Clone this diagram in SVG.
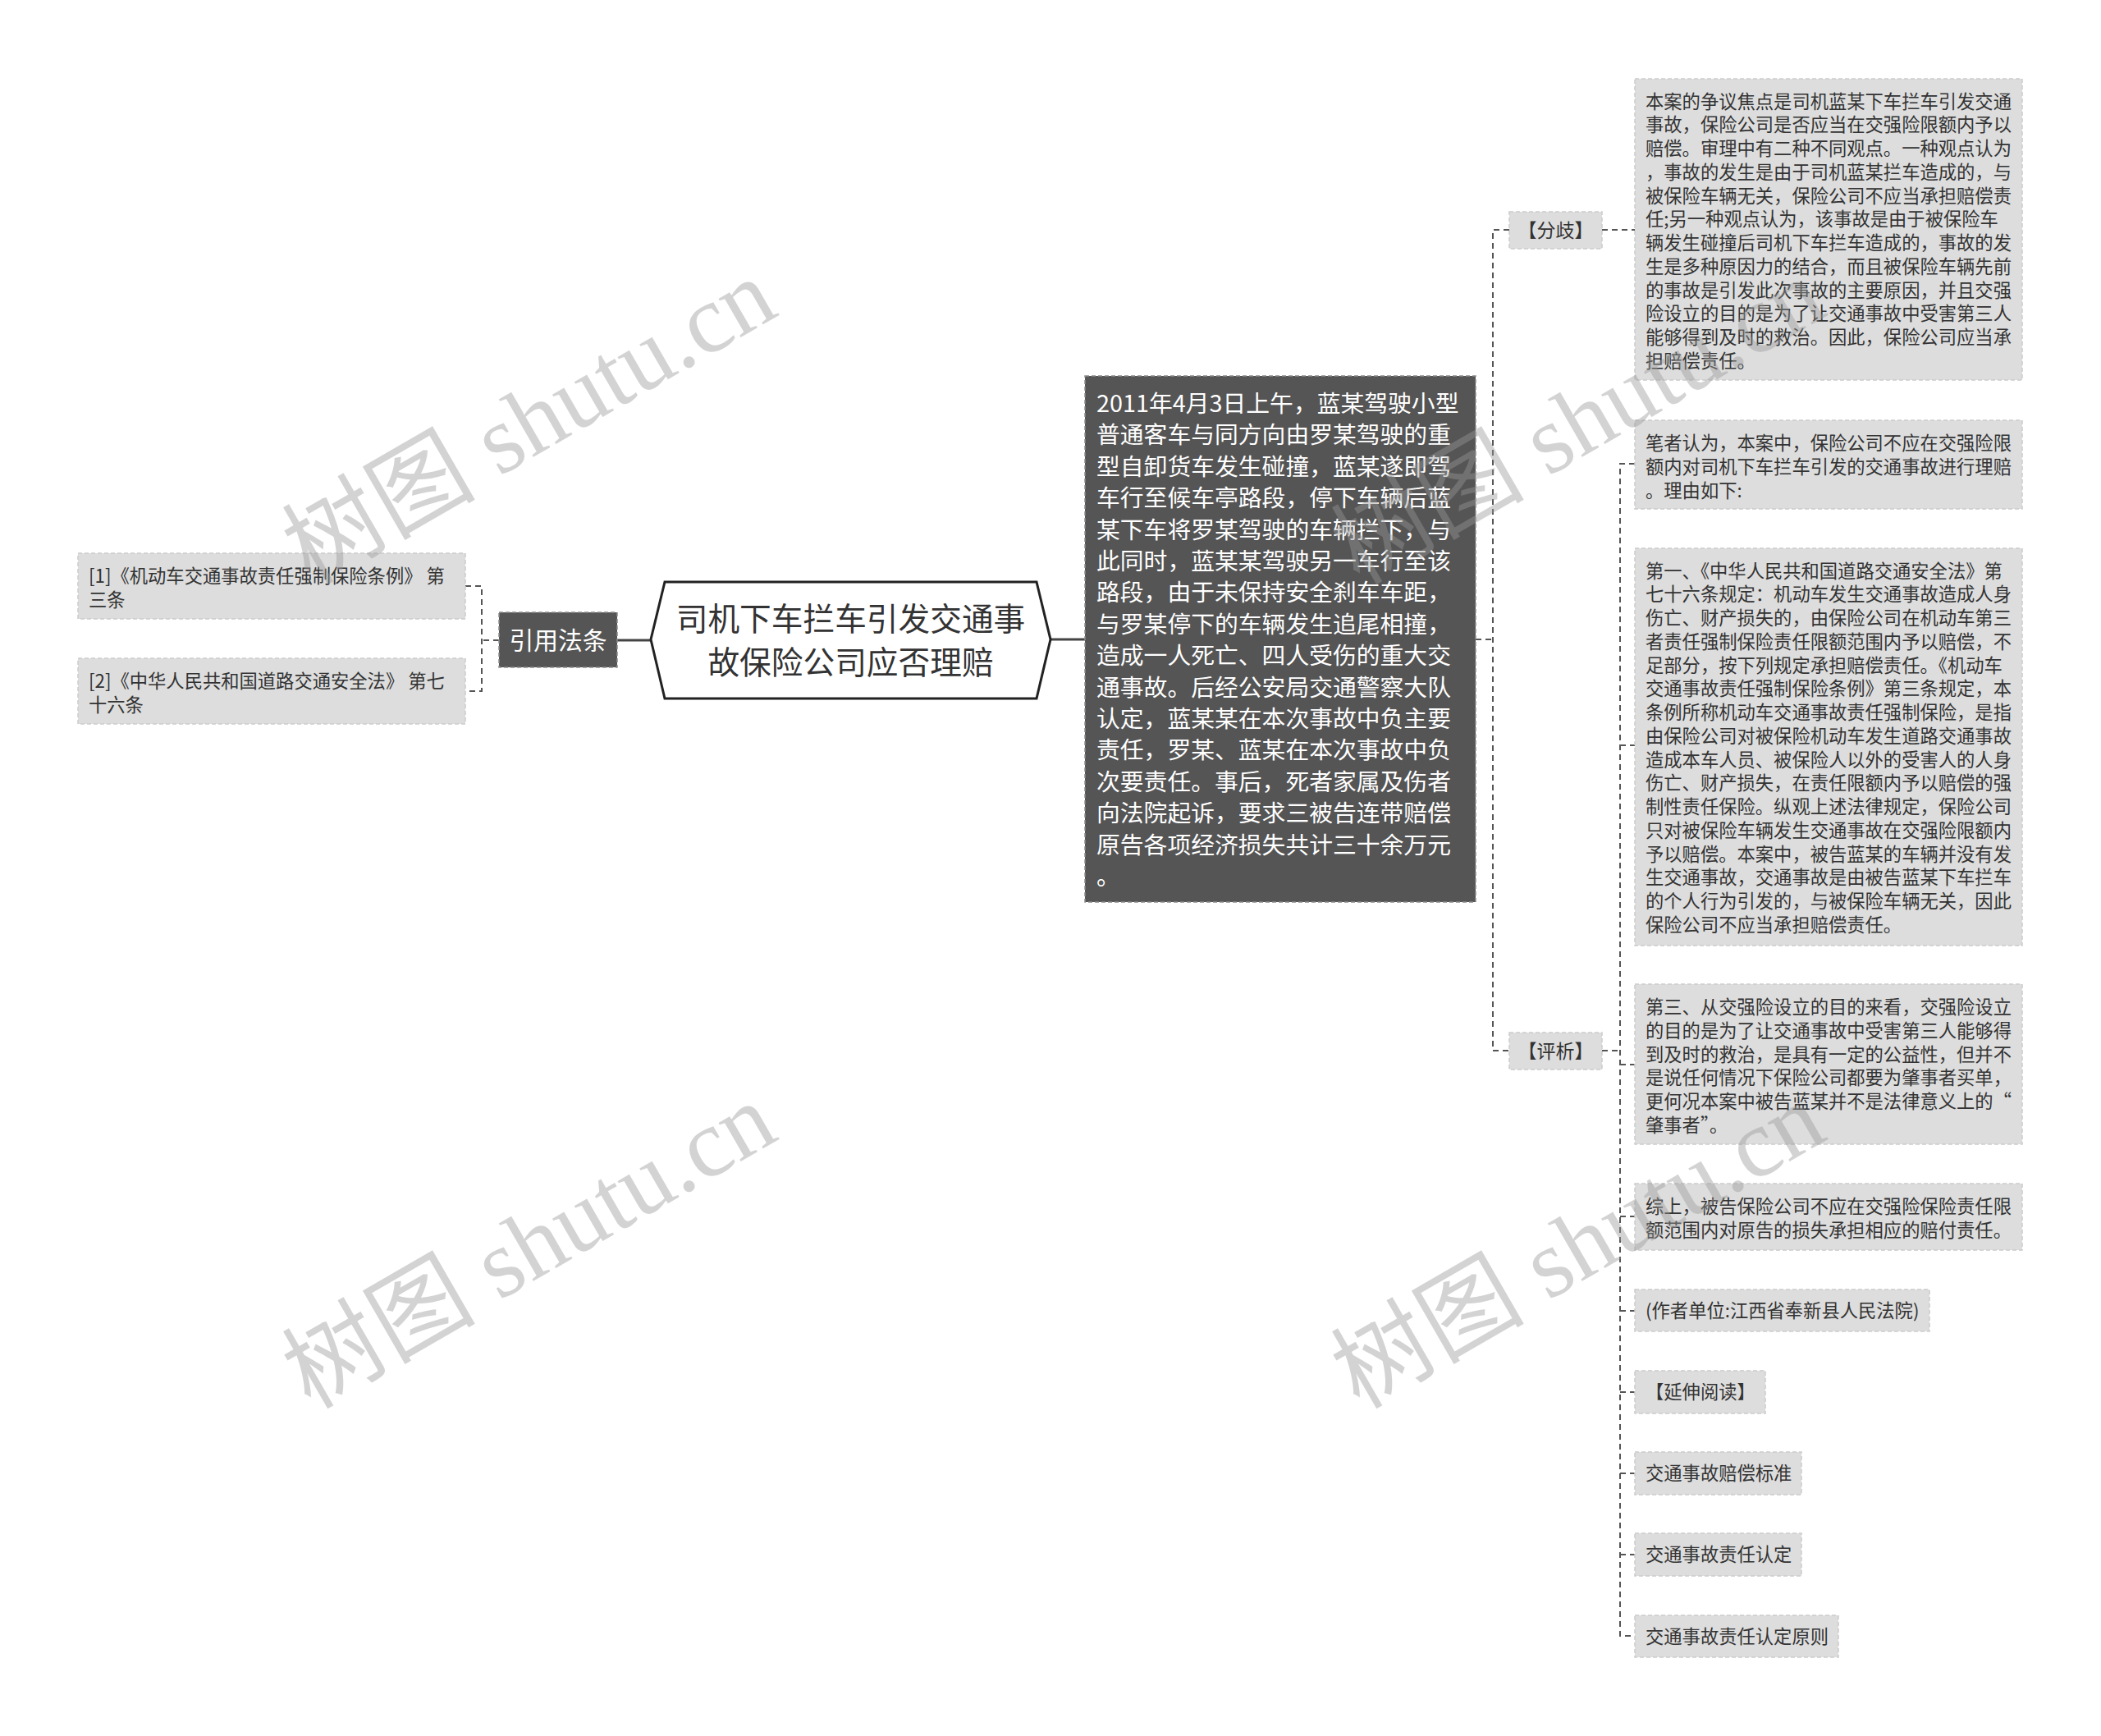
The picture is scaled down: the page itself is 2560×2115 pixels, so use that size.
<svg xmlns="http://www.w3.org/2000/svg" width="2560" height="2115" viewBox="0 0 2560 2115">
<style>
.leaf{fill:#dddddd;stroke:#cccccc;stroke-width:1.5;stroke-dasharray:5 3}
.dark{fill:#555555;stroke:#8c8c8c;stroke-width:1.5;stroke-dasharray:5 3}
.t{font-family:"Noto Sans CJK SC","Noto Sans",sans-serif;fill:#333333}
.s{font-size:22.3px}
.w{fill:#ffffff}
.conn{fill:none;stroke:#555555;stroke-width:2;stroke-dasharray:7 5}
.solid{fill:none;stroke:#444444;stroke-width:3}
.wm{font-family:"Liberation Serif","Noto Sans CJK SC",serif;font-size:118px;fill:#999999;opacity:0.42}
</style>
<rect width="2560" height="2115" fill="#ffffff"/>
<g id="connectors">
<path class="solid" d="M752,780 H793"/>
<path class="solid" d="M1280,779 H1322"/>
<path class="conn" d="M608,780 H587"/>
<path class="conn" d="M567,714 H587 V842 H567"/>
<path class="conn" d="M1798,779 H1819"/>
<path class="conn" d="M1839,280 H1819 V1280 H1839"/>
<path class="conn" d="M1952,280 H1992"/>
<path class="conn" d="M1952,1280 H1974"/>
<path class="conn" d="M1992,565 H1974 V1993 H1992"/>
<path class="conn" d="M1974,908 H1992 M1974,1297 H1992 M1974,1482 H1992 M1974,1597 H1992 M1974,1696 H1992 M1974,1795 H1992 M1974,1894 H1992"/>
</g>
<g id="root">
<polygon points="793,779 810,709 1263,709 1280,779 1263,851 810,851" fill="#ffffff" stroke="#222222" stroke-width="3"/>
<text class="t" x="1036.5" y="768" font-size="38.7" text-anchor="middle" fill="#222222">司机下车拦车引发交通事</text>
<text class="t" x="1036.5" y="821" font-size="38.7" text-anchor="middle" fill="#222222">故保险公司应否理赔</text>
</g>
<g id="yinyong">
<rect class="dark" x="608" y="746" width="144" height="67"/>
<text class="t w" x="680" y="791" font-size="29.8" text-anchor="middle">引用法条</text>
</g>
<g id="law1">
<rect class="leaf" x="95" y="674" width="472" height="80"/>
<text class="t s" x="108" y="710">[1]《机动车交通事故责任强制保险条例》 第</text>
<text class="t s" x="108" y="738.5">三条</text>
</g>
<g id="law2">
<rect class="leaf" x="95" y="802" width="472" height="80"/>
<text class="t s" x="108" y="838">[2]《中华人民共和国道路交通安全法》 第七</text>
<text class="t s" x="108" y="866.5">十六条</text>
</g>
<g id="facts">
<rect class="dark" x="1322" y="458" width="476" height="641"/>
<text class="t w" font-size="28.8">
<tspan x="1336" y="502">2011年4月3日上午，蓝某驾驶小型</tspan>
<tspan x="1336" y="540.4">普通客车与同方向由罗某驾驶的重</tspan>
<tspan x="1336" y="578.8">型自卸货车发生碰撞，蓝某遂即驾</tspan>
<tspan x="1336" y="617.2">车行至候车亭路段，停下车辆后蓝</tspan>
<tspan x="1336" y="655.6">某下车将罗某驾驶的车辆拦下，与</tspan>
<tspan x="1336" y="694">此同时，蓝某某驾驶另一车行至该</tspan>
<tspan x="1336" y="732.4">路段，由于未保持安全刹车车距，</tspan>
<tspan x="1336" y="770.8">与罗某停下的车辆发生追尾相撞，</tspan>
<tspan x="1336" y="809.2">造成一人死亡、四人受伤的重大交</tspan>
<tspan x="1336" y="847.6">通事故。后经公安局交通警察大队</tspan>
<tspan x="1336" y="886">认定，蓝某某在本次事故中负主要</tspan>
<tspan x="1336" y="924.4">责任，罗某、蓝某在本次事故中负</tspan>
<tspan x="1336" y="962.8">次要责任。事后，死者家属及伤者</tspan>
<tspan x="1336" y="1001.2">向法院起诉，要求三被告连带赔偿</tspan>
<tspan x="1336" y="1039.6">原告各项经济损失共计三十余万元</tspan>
<tspan x="1336" y="1078">。</tspan>
</text>
</g>
<g id="fenqi">
<rect class="leaf" x="1839" y="258" width="113" height="45"/>
<text class="t" x="1895.5" y="288.5" font-size="23" text-anchor="middle">【分歧】</text>
</g>
<g id="pingxi">
<rect class="leaf" x="1839" y="1258" width="113" height="45"/>
<text class="t" x="1895.5" y="1288.5" font-size="23" text-anchor="middle">【评析】</text>
</g>
<g id="fenqi-text">
<rect class="leaf" x="1992" y="96" width="472" height="367"/>
<text class="t s">
<tspan x="2005" y="131.5">本案的争议焦点是司机蓝某下车拦车引发交通</tspan>
<tspan x="2005" y="160.25">事故，保险公司是否应当在交强险限额内予以</tspan>
<tspan x="2005" y="189">赔偿。审理中有二种不同观点。一种观点认为</tspan>
<tspan x="2005" y="217.75">，事故的发生是由于司机蓝某拦车造成的，与</tspan>
<tspan x="2005" y="246.5">被保险车辆无关，保险公司不应当承担赔偿责</tspan>
<tspan x="2005" y="275.25">任;另一种观点认为，该事故是由于被保险车</tspan>
<tspan x="2005" y="304">辆发生碰撞后司机下车拦车造成的，事故的发</tspan>
<tspan x="2005" y="332.75">生是多种原因力的结合，而且被保险车辆先前</tspan>
<tspan x="2005" y="361.5">的事故是引发此次事故的主要原因，并且交强</tspan>
<tspan x="2005" y="390.25">险设立的目的是为了让交通事故中受害第三人</tspan>
<tspan x="2005" y="419">能够得到及时的救治。因此，保险公司应当承</tspan>
<tspan x="2005" y="447.75">担赔偿责任。</tspan>
</text>
</g>
<g id="bizhe">
<rect class="leaf" x="1992" y="512" width="472" height="108"/>
<text class="t s">
<tspan x="2005" y="548">笔者认为，本案中，保险公司不应在交强险限</tspan>
<tspan x="2005" y="576.75">额内对司机下车拦车引发的交通事故进行理赔</tspan>
<tspan x="2005" y="605.5">。理由如下:</tspan>
</text>
</g>
<g id="diyi">
<rect class="leaf" x="1992" y="668" width="472" height="484"/>
<text class="t s">
<tspan x="2005" y="703.5">第一、《中华人民共和国道路交通安全法》第</tspan>
<tspan x="2005" y="732.25">七十六条规定：机动车发生交通事故造成人身</tspan>
<tspan x="2005" y="761">伤亡、财产损失的，由保险公司在机动车第三</tspan>
<tspan x="2005" y="789.75">者责任强制保险责任限额范围内予以赔偿，不</tspan>
<tspan x="2005" y="818.5">足部分，按下列规定承担赔偿责任。《机动车</tspan>
<tspan x="2005" y="847.25">交通事故责任强制保险条例》第三条规定，本</tspan>
<tspan x="2005" y="876">条例所称机动车交通事故责任强制保险，是指</tspan>
<tspan x="2005" y="904.75">由保险公司对被保险机动车发生道路交通事故</tspan>
<tspan x="2005" y="933.5">造成本车人员、被保险人以外的受害人的人身</tspan>
<tspan x="2005" y="962.25">伤亡、财产损失，在责任限额内予以赔偿的强</tspan>
<tspan x="2005" y="991">制性责任保险。纵观上述法律规定，保险公司</tspan>
<tspan x="2005" y="1019.75">只对被保险车辆发生交通事故在交强险限额内</tspan>
<tspan x="2005" y="1048.5">予以赔偿。本案中，被告蓝某的车辆并没有发</tspan>
<tspan x="2005" y="1077.25">生交通事故，交通事故是由被告蓝某下车拦车</tspan>
<tspan x="2005" y="1106">的个人行为引发的，与被保险车辆无关，因此</tspan>
<tspan x="2005" y="1134.75">保险公司不应当承担赔偿责任。</tspan>
</text>
</g>
<g id="disan">
<rect class="leaf" x="1992" y="1199" width="472" height="195"/>
<text class="t s">
<tspan x="2005" y="1235">第三、从交强险设立的目的来看，交强险设立</tspan>
<tspan x="2005" y="1263.75">的目的是为了让交通事故中受害第三人能够得</tspan>
<tspan x="2005" y="1292.5">到及时的救治，是具有一定的公益性，但并不</tspan>
<tspan x="2005" y="1321.25">是说任何情况下保险公司都要为肇事者买单，</tspan>
<tspan x="2005" y="1350">更何况本案中被告蓝某并不是法律意义上的“</tspan>
<tspan x="2005" y="1378.75">肇事者”。</tspan>
</text>
</g>
<g id="zongshang">
<rect class="leaf" x="1992" y="1442" width="472" height="81"/>
<text class="t s">
<tspan x="2005" y="1478">综上，被告保险公司不应在交强险保险责任限</tspan>
<tspan x="2005" y="1506.75">额范围内对原告的损失承担相应的赔付责任。</tspan>
</text>
</g>
<g id="zuozhe">
<rect class="leaf" x="1992" y="1571" width="359" height="51"/>
<text class="t s" x="2005" y="1605">(作者单位:江西省奉新县人民法院)</text>
</g>
<g id="yanshen">
<rect class="leaf" x="1992" y="1670" width="159" height="52"/>
<text class="t s" x="2005" y="1704">【延伸阅读】</text>
</g>
<g id="biaozhun">
<rect class="leaf" x="1992" y="1769" width="203" height="52"/>
<text class="t s" x="2005" y="1803">交通事故赔偿标准</text>
</g>
<g id="rending">
<rect class="leaf" x="1992" y="1868" width="203" height="52"/>
<text class="t s" x="2005" y="1902">交通事故责任认定</text>
</g>
<g id="yuanze">
<rect class="leaf" x="1992" y="1968" width="248" height="51"/>
<text class="t s" x="2005" y="2002">交通事故责任认定原则</text>
</g>
<g id="watermarks">
<text class="wm" x="645" y="514" text-anchor="middle" dominant-baseline="central" transform="rotate(-30 645 514)">树图 shutu.cn</text>
<text class="wm" x="645" y="1518" text-anchor="middle" dominant-baseline="central" transform="rotate(-30 645 1518)">树图 shutu.cn</text>
<text class="wm" x="1923" y="514" text-anchor="middle" dominant-baseline="central" transform="rotate(-30 1923 514)">树图 shutu.cn</text>
<text class="wm" x="1923" y="1518" text-anchor="middle" dominant-baseline="central" transform="rotate(-30 1923 1518)">树图 shutu.cn</text>
</g>
</svg>
